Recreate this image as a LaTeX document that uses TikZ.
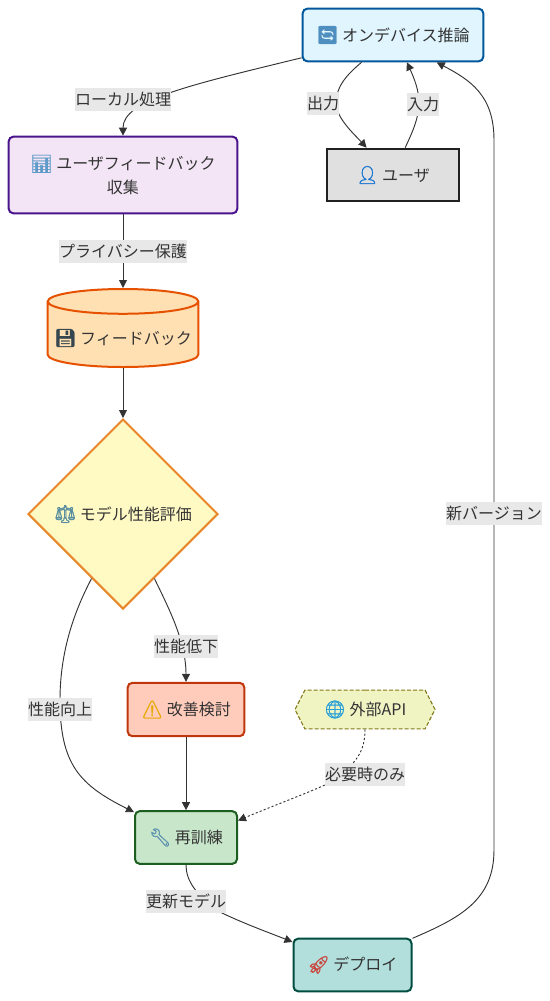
\documentclass[tikz,border=0pt]{standalone}
\usepackage{fontspec}
\setmainfont{Noto Sans CJK JP}
\newfontfamily\emojifont[FakeBold=1.5,Scale=1.1]{Noto Emoji}
\usetikzlibrary{arrows.meta,positioning,shapes.geometric,shapes.symbols}
\newcommand{\ico}[2]{{\emojifont\textcolor[HTML]{#1}{#2}}}
\definecolor{inferline}{HTML}{01579B}
\definecolor{infertone}{HTML}{E1F5FE}
\definecolor{collectline}{HTML}{4A148C}
\definecolor{collecttone}{HTML}{F3E5F5}
\definecolor{personline}{HTML}{212121}
\definecolor{persontone}{HTML}{E0E0E0}
\definecolor{storeline}{HTML}{E65100}
\definecolor{storetone}{HTML}{FFE0B2}
\definecolor{judgeline}{HTML}{E8862A}
\definecolor{judgetone}{HTML}{FFF9C4}
\definecolor{reviewline}{HTML}{BF360C}
\definecolor{reviewtone}{HTML}{FFCCBC}
\definecolor{apiline}{HTML}{827717}
\definecolor{apitone}{HTML}{F0F4C3}
\definecolor{retrainline}{HTML}{1B5E20}
\definecolor{retraintone}{HTML}{C8E6C9}
\definecolor{deployline}{HTML}{004D40}
\definecolor{deploytone}{HTML}{B2DFDB}

\begin{document}
\begin{tikzpicture}[
  x=0.75pt, y=-0.75pt,
  every node/.style={font=\fontsize{12}{18}\selectfont, text=black!80, align=center},
  box/.style={draw, rounded corners=3.5pt, line width=1.5pt, inner sep=0pt},
  tag/.style={fill=black!9, inner sep=0pt, minimum height=17.25pt},
  flow/.style={-{Triangle[length=6pt,width=6pt]}, draw=black!80, line width=0.7pt},
  hint/.style={flow, dash pattern=on 1.6pt off 1.6pt}
]
  \useasboundingbox (0,0) rectangle (550,1001);

  \node[box, draw=inferline, fill=infertone, minimum width=135.5pt, minimum height=39.5pt] (infer) at (393,35) {\ico{4F8FC0}{🔄} オンデバイス推論};
  \node[box, rounded corners=0pt, draw=personline, fill=persontone, minimum width=98.5pt, minimum height=39.5pt, below=64pt of infer] (person) {\ico{1976D2}{👤} ユーザ};
  \node[box, draw=collectline, fill=collecttone, minimum width=171.5pt, minimum height=57.5pt] (collect) at (123,175) {\ico{5F9BC8}{📊} ユーザフィードバック\\収集};
  \node[draw=storeline, fill=storetone, line width=1.5pt, cylinder, shape border rotate=90, shape aspect=0.18, minimum width=113pt, minimum height=58.5pt, inner sep=0pt, below=55.25pt of collect] (store) {\raisebox{-2.5pt}[\height][\depth]{\ico{37474F}{💾} フィードバック}};
  \node[draw=judgeline, fill=judgetone, line width=1.5pt, diamond, aspect=1, inner sep=0pt, minimum width=142.5pt, minimum height=142.5pt, below=37.5pt of store] (judge) {\ico{5A8FA0}{⚖} モデル性能評価};
  \node[box, draw=reviewline, fill=reviewtone, minimum width=87.5pt, minimum height=40pt] (review) at (186,709.5) {\ico{E8A800}{⚠} 改善検討};
  \node[box, draw=retrainline, fill=retraintone, minimum width=76.5pt, minimum height=39.5pt, below=54.75pt of review] (retrain) {\ico{5F93B0}{🔧} 再訓練};
  \node[box, draw=deployline, fill=deploytone, minimum width=88.5pt, minimum height=39.5pt] (deploy) at (352.5,965) {\ico{C9473F}{🚀} デプロイ};
  \node[draw=apiline, fill=apitone, line width=0.8pt, dash pattern=on 3pt off 1.5pt, signal, signal to=east and west, signal pointer angle=126, inner sep=0pt, minimum width=105pt, minimum height=29pt] (api) at (365,709.5) {\ico{29A0D8}{🌐} 外部API};

  \draw[flow] (infer.194) .. controls (190,85) and (123,100) .. (collect.north);
  \draw[flow] (collect) -- (store);
  \draw[flow] (store) -- (judge);
  \draw[flow] (infer.221) .. controls (345,76) and (336,88) .. (336,103) .. controls (336,118) and (355,135) .. (person.134);
  \draw[flow] (person.66) .. controls (412,133) and (419,118) .. (419,103) .. controls (419,90) and (414,78) .. (infer.297);
  \draw[flow] (judge.296) .. controls (167,605) and (186,640) .. (review.north);
  \draw[flow] (judge.244) .. controls (75,610) and (60,650) .. (60,700) .. controls (60,765) and (80,785) .. (retrain.154);
  \draw[flow] (review) -- (retrain);
  \draw[hint] (api.south) .. controls (365,750) and (358,765) .. (325,785) .. controls (300,796) and (265,809) .. (retrain.18);
  \draw[flow] (retrain.south) .. controls (186,880) and (195,895) .. (222,913) .. controls (245,924) and (270,933) .. (deploy.159);
  \draw[flow] (deploy.24) .. controls (460,918) and (494,900) .. (494,850) -- (494,140) .. controls (494,95) and (470,80) .. (infer.328);

  \node[tag] (tlocal) at (123,99) {ローカル処理};
  \node[tag] (tout) at (323,103) {出力};
  \node[tag] (tin) at (423,104) {入力};
  \node[tag] (tsafe) at (123,251) {プライバシー保護};
  \node[tag] (tdown) at (186,646) {性能低下};
  \node[tag] (tup) at (60,709) {性能向上};
  \node[tag] (tneed) at (365,774) {必要時のみ};
  \node[tag] (tnew) at (186,901) {更新モデル};
  \node[tag] (tver) at (494,513) {新バージョン};
\end{tikzpicture}
\end{document}
